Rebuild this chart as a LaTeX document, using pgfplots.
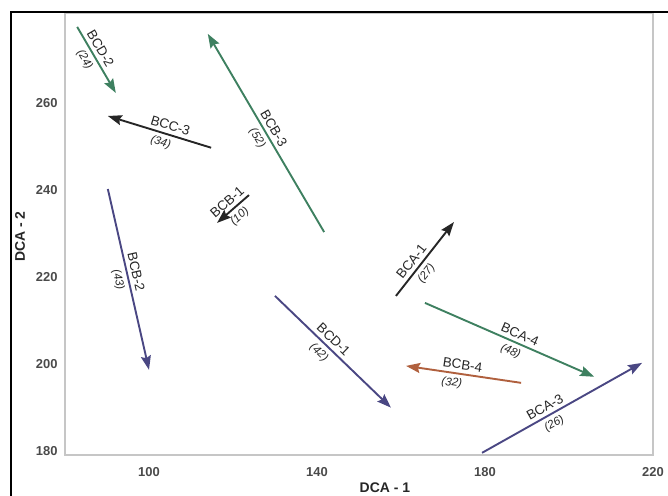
\documentclass[border=0pt]{standalone}
\usepackage{pgfplots}
\pgfplotsset{compat=1.18}
\usetikzlibrary{arrows.meta}
\usepackage{fontspec}
\setmainfont{Liberation Sans}
\definecolor{cgreen}{HTML}{3E8060}
\definecolor{cpurple}{HTML}{4A4783}
\definecolor{cblack}{HTML}{262626}
\definecolor{cbrown}{HTML}{B0603E}
\definecolor{tickgray}{HTML}{4A4A4A}
\tikzset{
  nm/.style={pos=#1, sloped, above=3.5bp, inner sep=0pt, font=\fontsize{13.5}{15}\selectfont, text=cblack},
  ct/.style={pos=#1, sloped, below=4bp, inner sep=0pt, font=\fontsize{11.5}{13}\selectfont\itshape, text=cblack},
}
\begin{document}
\begin{tikzpicture}
\useasboundingbox (-65bp,-41bp) rectangle (603bp,455bp);
\begin{axis}[
  scale only axis, width=588bp, height=442bp,
  xmin=80, xmax=220, ymin=179, ymax=280.7,
  xtick={100,140,180,220}, ytick={180,200,220,240,260},
  major tick length=0pt,
  axis line style={draw=gray!45, line width=1.6bp},
  clip=false,
  /pgf/number format/assume math mode=true,
  tick label style={font=\fontsize{13}{15}\selectfont\bfseries, text=tickgray},
  xticklabel style={yshift=-9bp},
  yticklabel style={xshift=-4bp},
  xlabel={DCA - 1}, ylabel={DCA - 2},
  label style={font=\fontsize{14}{16}\selectfont\bfseries, text=cblack},
  x label style={at={(axis description cs:0.544,-0.0747)}, anchor=center},
  y label style={at={(axis description cs:-0.0765,0.494)}, anchor=center},
  every axis plot/.append style={line width=1.9bp, -{Stealth[length=14bp,width=10bp,inset=2bp]}},
]
% BCD-2
\addplot[cgreen] coordinates {(82.9,277.5) (92.1,262.3)}
  node[nm=0.4] {BCD-2} node[ct=0.42] {(24)};
% BCC-3
\addplot[cblack] coordinates {(114.8,249.7) (90.2,257.0)}
  node[nm=0.42] {BCC-3} node[ct=0.46] {(34)};
% BCB-3
\addplot[cgreen] coordinates {(141.7,230.3) (114.0,275.9)}
  node[nm=0.5] {BCB-3} node[ct=0.5] {(52)};
% BCB-1
\addplot[cblack] coordinates {(123.8,238.8) (116.2,232.4)}
  node[nm=0.5] {BCB-1} node[ct=0.5] {(10)};
% BCB-2
\addplot[cpurple] coordinates {(90.2,240.2) (100.0,198.6)}
  node[nm=0.47] {BCB-2} node[ct=0.49] {(43)};
% BCD-1
\addplot[cpurple] coordinates {(130.0,215.6) (157.6,189.9)}
  node[nm=0.45] {BCD-1} node[ct=0.44] {(42)};
% BCA-1
\addplot[cblack] coordinates {(158.8,215.6) (172.6,232.6)}
  node[nm=0.39] {BCA-1} node[ct=0.39] {(27)};
% BCA-4
\addplot[cgreen] coordinates {(165.7,214.0) (206.0,197.0)}
  node[nm=0.54] {BCA-4} node[ct=0.53] {(48)};
% BCB-4
\addplot[cbrown] coordinates {(188.6,195.6) (161.2,199.5)}
  node[nm=0.52] {BCB-4} node[ct=0.59] {(32)};
% BCA-3
\addplot[cpurple] coordinates {(179.3,179.5) (217.4,200.2)}
  node[nm=0.42] {BCA-3} node[ct=0.42] {(26)};
\end{axis}
\draw[black, line width=1.8bp] (-54bp,-41bp) -- (-54bp,443bp) -- (603bp,443bp);
\end{tikzpicture}
\end{document}
